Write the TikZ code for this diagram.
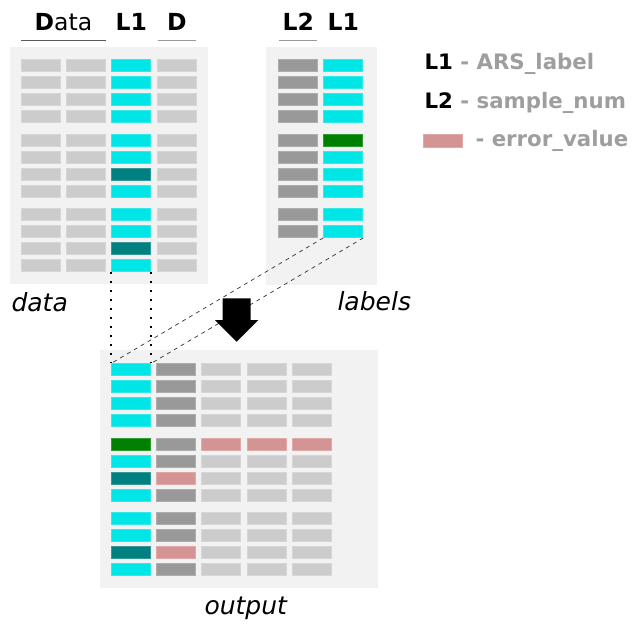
\documentclass[tikz,border=0pt]{standalone}
\usepackage{fontspec}
\setmainfont{DejaVu Sans}
\definecolor{lgray}{HTML}{CCCCCC}
\definecolor{dgray}{HTML}{999999}
\definecolor{lcyan}{HTML}{00E5E5}
\definecolor{lteal}{HTML}{008080}
\definecolor{lgreen}{HTML}{008000}
\definecolor{errpink}{HTML}{D49494}
\definecolor{panelbg}{HTML}{F2F2F2}
\definecolor{legendgray}{HTML}{9E9E9E}
\begin{document}
\begin{tikzpicture}[x=1pt,y=-1pt,
    cell/.style={rectangle, inner sep=0pt, minimum width=39pt, minimum height=12pt,
      line width=1pt, fill=#1, draw=#1!80!white},
    panel/.style={fill=panelbg},
    head/.style={anchor=base, font=\fontsize{23.5}{27}\selectfont\bfseries},
    legend/.style={anchor=base west, font=\fontsize{21.3}{25}\selectfont\bfseries},
    title/.style={anchor=base west, font=\fontsize{25}{29}\selectfont\itshape},
    dotline/.style={line width=1.8pt, dash pattern=on 1.8pt off 7.2pt},
    dashline/.style={line width=0.7pt, black!80, dash pattern=on 4pt off 4pt}]
    \useasboundingbox (0,0) rectangle (640,627);

    % Panels
    \fill[panel] (10,47) rectangle (208,284);
    \fill[panel] (266,47) rectangle (377,285);
    \fill[panel] (100,350) rectangle (378,588);

    % Column headers
    \node[head] (hdata) at (63.5,30.5) {D\mdseries ata};
    \node[head] (hl1) at (131.3,30.5) {L1};
    \node[head] (hd) at (177,30.5) {D};
    \node[head] (hl2) at (298.3,30.5) {L2};
    \node[head] (hl1b) at (343.3,30.5) {L1};
    \draw[black!65, line width=1pt] (21,40.7) -- (106,40.7);
    \draw[dgray, line width=1pt] (157.7,40.7) -- (195.7,40.7);
    \draw[dgray, line width=1pt] (279.3,40.7) -- (317.3,40.7);

    % data cells
    \foreach \i/\c in {1/lcyan,2/lcyan,3/lcyan,4/lcyan,5/lcyan,6/lcyan,
                       7/lteal,8/lcyan,9/lcyan,10/lcyan,11/lteal,12/lcyan} {
      \pgfmathsetmacro\yy{65.8+(\i-1)*17+floor((\i-1)/4)*6.3}
      \node[cell=lgray] (d-1-\i) at (41,\yy) {};
      \node[cell=lgray] (d-2-\i) at (86.3,\yy) {};
      \node[cell=\c] (d-3-\i) at (131.3,\yy) {};
      \node[cell=lgray] (d-4-\i) at (177,\yy) {};
    }

    % labels cells
    \foreach \i/\c in {1/lcyan,2/lcyan,3/lcyan,4/lcyan,5/lgreen,
                       6/lcyan,7/lcyan,8/lcyan,9/lcyan,10/lcyan} {
      \pgfmathsetmacro\yy{65.8+(\i-1)*17+floor((\i-1)/4)*6.3}
      \node[cell=dgray] (l-1-\i) at (298.3,\yy) {};
      \node[cell=\c] (l-2-\i) at (343.3,\yy) {};
    }

    % output cells
    \foreach \i/\a/\b/\c in {1/lcyan/dgray/lgray,2/lcyan/dgray/lgray,3/lcyan/dgray/lgray,
                             4/lcyan/dgray/lgray,5/lgreen/dgray/errpink,6/lcyan/dgray/lgray,
                             7/lteal/errpink/lgray,8/lcyan/dgray/lgray,9/lcyan/dgray/lgray,
                             10/lcyan/dgray/lgray,11/lteal/errpink/lgray,12/lcyan/dgray/lgray} {
      \pgfmathsetmacro\yy{369.8+(\i-1)*17+floor((\i-1)/4)*6.3}
      \node[cell=\a] (o-1-\i) at (131.3,\yy) {};
      \node[cell=\b] (o-2-\i) at (176.3,\yy) {};
      \node[cell=\c] (o-3-\i) at (221.3,\yy) {};
      \node[cell=\c] (o-4-\i) at (266.7,\yy) {};
      \node[cell=\c] (o-5-\i) at (312,\yy) {};
    }

    % Connectors
    \draw[dotline] (d-3-12.south west) -- (o-1-1.north west);
    \draw[dotline] (d-3-12.south east) -- (o-1-1.north east);
    \draw[dashline] (l-2-10.south west) -- (o-1-1.north west);
    \draw[dashline] (l-2-10.south east) -- (o-1-1.north east);

    % Big arrow
    \fill (222.7,298.3) -- (250.7,298.3) -- (250.7,320) -- (258.3,320)
      -- (236.7,341.7) -- (215,320) -- (222.7,320) -- cycle;

    % Panel names
    \node[title] (tdata) at (8,311) {data};
    \node[title] (tlabels) at (334,310) {labels};
    \node[title] (toutput) at (201,614) {output};

    % Legend
    \node[legend] (k1) at (421,69.3) {L1 \textcolor{legendgray}{- ARS\_label}};
    \node[legend] (k2) at (421,108.3) {L2 \textcolor{legendgray}{- sample\_num}};
    \node[cell=errpink, minimum height=12.5pt] (kerr) at (442.7,141) {};
    \node[legend] (k3) at (472,146.7) {\textcolor{legendgray}{- error\_value}};
\end{tikzpicture}
\end{document}
